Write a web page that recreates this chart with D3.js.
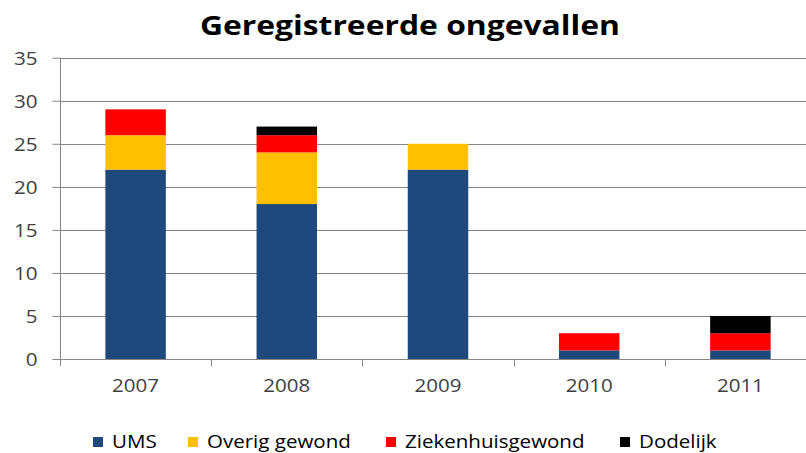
<!DOCTYPE html>
<html>
<head>
<meta charset="utf-8">
<script src="https://cdn.jsdelivr.net/npm/d3@7"></script>
<style>
  body { margin: 0; background: #fff; }
  svg { display: block; font-family: "Open Sans", sans-serif; }
</style>
</head>
<body>
<div id="chart"></div>
<script>
// chart data
const years = ['2007', '2008', '2009', '2010', '2011'];
const seriesNames = ['UMS', 'Overig gewond', 'Ziekenhuisgewond', 'Dodelijk'];
const ums = [22, 18, 22, 1, 1];
const overig = [4, 6, 3, 0, 0];
const ziekenhuis = [3, 2, 0, 2, 2];
const dodelijk = [0, 1, 0, 0, 2];
const yTicks = [0, 5, 10, 15, 20, 25, 30, 35];
const colors = ['#1F497D', '#FFC000', '#FF0000', '#000000'];

let w = 806, h = 453;
let plotLeft = 60, plotRight = 816, plotTop = 57.7, plotBottom = 359;
let stretchK = 1.14; // the original text is a bit wide

// widen text horizontally like the source picture
function stretch(sel, k) {
  sel.each(function () {
    let len = this.getComputedTextLength();
    d3.select(this)
      .attr('textLength', len * k)
      .attr('lengthAdjust', 'spacingAndGlyphs');
  });
}

const rows = years.map((y, i) => ({
  year: y,
  'UMS': ums[i],
  'Overig gewond': overig[i],
  'Ziekenhuisgewond': ziekenhuis[i],
  'Dodelijk': dodelijk[i]
}));

const stacked = d3.stack().keys(seriesNames)(rows);

let svg = d3.select('#chart').append('svg')
  .attr('width', w)
  .attr('height', h);

let xScale = d3.scaleBand().domain(years).range([plotLeft, plotRight]).padding(0);
let yScale = d3.scaleLinear().domain([0, 35]).range([plotBottom, plotTop]);

// gridlines
svg.append('g')
  .selectAll('line')
  .data(yTicks.filter(d => d > 0))
  .enter().append('line')
  .attr('x1', plotLeft).attr('x2', plotRight)
  .attr('y1', d => Math.round(yScale(d)) + 0.5)
  .attr('y2', d => Math.round(yScale(d)) + 0.5)
  .attr('stroke', '#868686')
  .attr('stroke-width', 1);

// bars
let barW = xScale.bandwidth() * 0.4;
svg.append('g')
  .selectAll('g')
  .data(stacked)
  .enter().append('g')
  .attr('fill', (d, i) => colors[i])
  .selectAll('rect')
  .data(d => d.filter(s => s[1] - s[0] > 0))
  .enter().append('rect')
  .attr('x', d => xScale(d.data.year) + (xScale.bandwidth() - barW) / 2)
  .attr('y', d => yScale(d[1]))
  .attr('width', barW)
  .attr('height', d => yScale(d[0]) - yScale(d[1]));

// y axis
const yAxis = d3.axisLeft(yScale).tickValues(yTicks).tickSize(8).tickPadding(15);
let yg = svg.append('g')
  .attr('transform', 'translate(' + (plotLeft + 0.5) + ',0)')
  .call(yAxis);
yg.select('.domain').remove();
yg.append('line')
  .attr('x1', 0).attr('x2', 0)
  .attr('y1', plotTop).attr('y2', plotBottom + 7)
  .attr('stroke', '#868686');
yg.selectAll('.tick line').attr('stroke', '#868686');
yg.selectAll('.tick text')
  .attr('fill', '#404040')
  .style('font-size', '17.5px')
  .style('font-family', '"Open Sans", sans-serif')
  .attr('dy', '0.36em')
  .call(stretch, 1.18);

// x axis
let xg = svg.append('g')
  .attr('transform', 'translate(0,' + (Math.round(plotBottom) + 0.5) + ')');
xg.append('line')
  .attr('x1', plotLeft).attr('x2', plotRight)
  .attr('stroke', '#868686');
xg.selectAll('.tickmark')
  .data(years.slice(1))
  .enter().append('line')
  .attr('class', 'tickmark')
  .attr('x1', d => Math.round(xScale(d)) + 0.5)
  .attr('x2', d => Math.round(xScale(d)) + 0.5)
  .attr('y1', 0).attr('y2', 7)
  .attr('stroke', '#868686');
xg.selectAll('.lbl')
  .data(years)
  .enter().append('text')
  .attr('class', 'lbl')
  .attr('x', d => xScale(d) + xScale.bandwidth() / 2)
  .attr('y', 32)
  .attr('text-anchor', 'middle')
  .attr('fill', '#404040')
  .style('font-size', '18px')
  .text(d => d)
  .call(stretch, stretchK);

// title
svg.append('text')
  .attr('x', 410)
  .attr('y', 35)
  .attr('text-anchor', 'middle')
  .attr('textLength', 420)
  .attr('lengthAdjust', 'spacingAndGlyphs')
  .style('font-size', '26px')
  .style('font-weight', 'bold')
  .attr('fill', '#000')
  .text('Geregistreerde ongevallen');

// legend
const legendX = [93, 188, 386, 620];
let lg = svg.append('g').selectAll('g')
  .data(seriesNames)
  .enter().append('g')
  .attr('transform', (d, i) => 'translate(' + legendX[i] + ',0)');
lg.append('rect')
  .attr('x', 0).attr('y', 437)
  .attr('width', 10).attr('height', 10)
  .attr('fill', (d, i) => colors[i]);
lg.append('text')
  .attr('x', 19)
  .attr('y', 448)
  .attr('fill', '#000')
  .style('font-size', '18px')
  .text(d => d)
  .call(stretch, stretchK);
</script>
</body>
</html>
